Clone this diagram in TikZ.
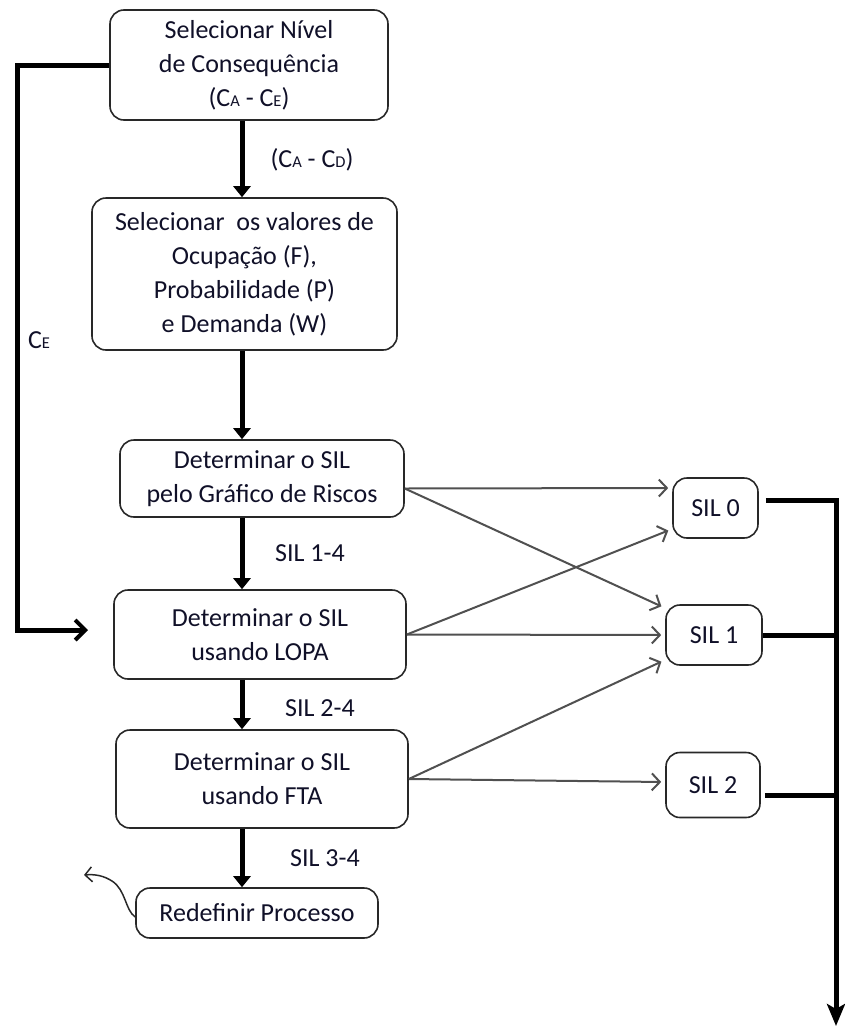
\documentclass[tikz,border=0pt]{standalone}
\usepackage{fontspec}
\setmainfont{Carlito}
\usetikzlibrary{arrows.meta}
\definecolor{ink}{RGB}{16,16,40}
\definecolor{boxline}{RGB}{40,40,40}
\definecolor{link}{RGB}{80,80,80}
\newcommand\mainsize{\fontsize{26}{34}\selectfont}
\newcommand\ssc[1]{{\fontsize{16.5}{16.5}\selectfont #1}}
\tikzset{
  box/.style={draw=boxline, line width=1.6pt, rounded corners=14pt, align=center,
              inner sep=0pt, text=ink, font=\mainsize},
  lbl/.style={text=ink, font=\mainsize, inner sep=0pt},
  flow/.style={line width=5pt, draw=black, -{Triangle[width=17pt,length=11pt]}},
  feedback/.style={line width=5pt, draw=black, line join=miter,
                   -{Straight Barb[length=10pt,width=20pt,line width=4pt]}},
  route/.style={draw=link, line width=2pt, -{Straight Barb[length=8pt,width=17pt,line width=2pt]}, shorten >=2pt},
  bus/.style={line width=5pt, draw=black},
  busout/.style={line width=5pt, draw=black, line join=miter,
                 -{Stealth[width=18pt,length=22pt,inset=5pt]}},
  loopback/.style={draw=boxline, line width=1.5pt, -{Straight Barb[length=7pt,width=15pt,line width=1.5pt]}},
}
\begin{document}
\begin{tikzpicture}[x=1pt,y=-1pt]
\useasboundingbox (0,0) rectangle (844,1026);

% main column
\node[box, minimum width=278pt, minimum height=110pt] (nivel) at (249,65)
  {Selecionar Nível\\de Consequência\\(C\ssc{A} - C\ssc{E})};
\node[box, minimum width=305pt, minimum height=152pt] (valores) at (244.5,274)
  {Selecionar\ \ os valores de\\Ocupação (F),\\Probabilidade (P)\\e Demanda (W)};
\node[box, minimum width=284pt, minimum height=77pt] (grafico) at (262,478.5)
  {Determinar o SIL\\pelo Gráfico de Riscos};
\node[box, minimum width=292pt, minimum height=89pt] (lopa) at (260,634.5)
  {Determinar o SIL\\usando LOPA};
\node[box, minimum width=292pt, minimum height=98pt] (fta) at (262,779)
  {Determinar o SIL\\usando FTA};
\node[box, minimum width=242pt, minimum height=50pt] (redef) at (257,913)
  {Redefinir Processo};

% SIL outcomes
\node[box, minimum width=85pt, minimum height=60pt] (sil0) at (715.5,508) {SIL 0};
\node[box, minimum width=96pt, minimum height=60pt] (sil1) at (714,635) {SIL 1};
\node[box, minimum width=94pt, minimum height=65pt] (sil2) at (713,785) {SIL 2};

% labels on the flow
\node[lbl] (lca) at (312,160) {(C\ssc{A} - C\ssc{D})};
\node[lbl] (lce) at (39,340) {C\ssc{E}};
\node[lbl] (l14) at (310,553) {SIL 1-4};
\node[lbl] (l24) at (320,708) {SIL 2-4};
\node[lbl] (l34) at (325,858) {SIL 3-4};

% vertical flow
\coordinate (spine) at (242,0);
\draw[flow] (nivel.south -| spine) -- (valores.north -| spine);
\draw[flow] (valores.south -| spine) -- (grafico.north -| spine);
\draw[flow] (grafico.south -| spine) -- (lopa.north -| spine);
\draw[flow] (lopa.south -| spine) -- (fta.north -| spine);
\draw[flow] (fta.south -| spine) -- (redef.north -| spine);

% consequence C_E bypass
\coordinate (fbcorner) at (17,630);
\coordinate (fbend) at (88,630);
\draw[feedback] (nivel.west) -| (fbcorner) -- (fbend);

% routes to SIL outcomes
\draw[route] ([yshift=-10pt]grafico.east) -- ([xshift=-2pt,yshift=20pt]sil0.west);
\draw[route] ([yshift=-10pt]grafico.east) -- ([xshift=-2pt,yshift=-3pt]sil1.north west);
\draw[route] (lopa.east) -- ([xshift=-2pt,yshift=9pt]sil0.south west);
\draw[route] (lopa.east) -- ([xshift=-2pt]sil1.west);
\draw[route] (fta.east) -- ([xshift=-2pt,yshift=5pt]sil1.south west);
\draw[route] (fta.east) -- ([xshift=-2pt,yshift=3pt]sil2.west);

% collecting bus on the right
\coordinate (bus) at (836,0);
\coordinate (busend) at (836,1026);
\draw[busout] ([xshift=7pt,yshift=8pt]sil0.east) -| (busend);
\draw[bus] (sil1.east) -- (sil1.east -| bus);
\draw[bus] ([xshift=4pt,yshift=-10pt]sil2.east) -- ([yshift=-10pt]sil2.east -| bus);

% loop back from process redefinition
\coordinate (redefend) at (84,875);
\draw[loopback] ([yshift=-4pt]redef.west) .. controls (125,910) and (126,890) .. (112,881)
  .. controls (104,876) and (96,874) .. (redefend);
\end{tikzpicture}
\end{document}
